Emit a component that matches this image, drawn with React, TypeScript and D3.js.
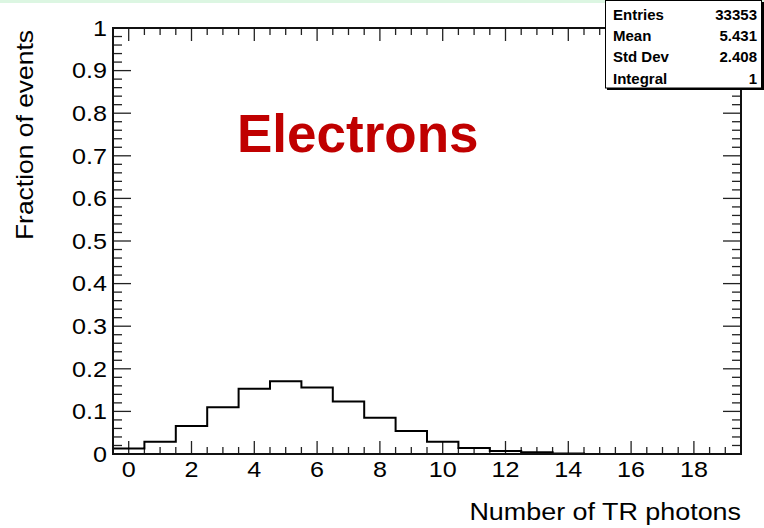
import React from "react";
import * as d3 from "d3";

// Number of TR photons per event (bin centres) and the normalised fraction in each bin
const photonCounts = [0, 1, 2, 3, 4, 5, 6, 7, 8, 9, 10, 11, 12, 13, 14, 15, 16, 17, 18, 19];
const fractions = [
  0.013, 0.029, 0.066, 0.11, 0.153, 0.171, 0.156, 0.123, 0.085, 0.054,
  0.029, 0.014, 0.007, 0.004, 0.001, 0, 0, 0, 0, 0,
];

const xTickValues = [0, 2, 4, 6, 8, 10, 12, 14, 16, 18];
const yTickValues = [0, 0.1, 0.2, 0.3, 0.4, 0.5, 0.6, 0.7, 0.8, 0.9, 1];

const statLabels = ["Entries", "Mean", "Std Dev", "Integral"];
const statValues = ["33353", "5.431", "2.408", "1"];

const W = 764;
const H = 528;
const frame = { left: 113, right: 741, top: 28, bottom: 454 };
const FONT = "'Liberation Sans', Arial, Helvetica, sans-serif";
const STRETCH = 1.17;

// text that is widened horizontally around its anchor point
function WideText(props: {
  x: number;
  y: number;
  size: number;
  anchor?: "start" | "middle" | "end";
  dy?: string;
  sx?: number;
  children: React.ReactNode;
}) {
  const { x, y, size, anchor = "start", dy, sx = STRETCH, children } = props;
  return (
    <text
      transform={`translate(${x},${y}) scale(${sx},1)`}
      fontSize={size}
      textAnchor={anchor}
      dy={dy}
      fill="#000"
    >
      {children}
    </text>
  );
}

export default function App() {
  const x = d3.scaleLinear().domain([-0.5, 19.5]).range([frame.left, frame.right]);
  const y = d3.scaleLinear().domain([0, 1]).range([frame.bottom, frame.top]);

  // step outline of the histogram
  const steps: [number, number][] = [];
  photonCounts.forEach((c, i) => {
    steps.push([c - 0.5, fractions[i]]);
    steps.push([c + 0.5, fractions[i]]);
  });
  const histPath = d3
    .line<[number, number]>()
    .x((d) => x(d[0]))
    .y((d) => y(d[1]))(steps);

  const xMinor = d3.range(-0.5, 19.51, 0.5);
  const yMinor = d3.range(0, 1.0001, 0.02);

  const xMajorLen = 13;
  const xMinorLen = 7;
  const yMajorLen = 18;
  const yMinorLen = 9;

  const isMajorX = (v: number) => Math.abs(v / 2 - Math.round(v / 2)) < 1e-6;
  const isMajorY = (v: number) => Math.abs(v * 10 - Math.round(v * 10)) < 1e-6;

  const fmtY = (v: number) => (v === 0 ? "0" : v === 1 ? "1" : d3.format(".1f")(v));

  return (
    <svg
      width={W}
      height={H}
      style={{ position: "absolute", left: 0, top: 0, display: "block" }}
      fontFamily={FONT}
    >
      <rect x={0} y={0} width={W} height={H} fill="#ffffff" />
      <rect x={0} y={0} width={W} height={3} fill="#dcf6e2" />

      {/* ticks on all four sides */}
      <g stroke="#222" strokeWidth={1.3}>
        {xMinor.map((v, i) => {
          const len = isMajorX(v) ? xMajorLen : xMinorLen;
          return (
            <g key={"xt" + i}>
              <line x1={x(v)} x2={x(v)} y1={frame.bottom} y2={frame.bottom - len} />
              <line x1={x(v)} x2={x(v)} y1={frame.top} y2={frame.top + len} />
            </g>
          );
        })}
        {yMinor.map((v, i) => {
          const len = isMajorY(v) ? yMajorLen : yMinorLen;
          return (
            <g key={"yt" + i}>
              <line x1={frame.left} x2={frame.left + len} y1={y(v)} y2={y(v)} />
              <line x1={frame.right} x2={frame.right - len} y1={y(v)} y2={y(v)} />
            </g>
          );
        })}
      </g>

      {/* histogram */}
      <path d={histPath || ""} fill="none" stroke="#000" strokeWidth={2} />

      {/* frame */}
      <rect
        x={frame.left}
        y={frame.top}
        width={frame.right - frame.left}
        height={frame.bottom - frame.top}
        fill="none"
        stroke="#111"
        strokeWidth={2}
      />

      {/* tick labels */}
      {xTickValues.map((v) => (
        <WideText key={"xl" + v} x={x(v)} y={477} size={21.5} anchor="middle">
          {v}
        </WideText>
      ))}
      {yTickValues.map((v) => (
        <WideText key={"yl" + v} x={107} y={y(v)} size={21.5} anchor="end" dy="0.36em">
          {fmtY(v)}
        </WideText>
      ))}

      {/* axis titles */}
      <WideText x={741} y={520} size={23} anchor="end">
        Number of TR photons
      </WideText>
      <text
        transform={`translate(33,30) rotate(-90) scale(1.15,1)`}
        fontSize={23}
        textAnchor="end"
        fill="#000"
      >
        Fraction of events
      </text>

      {/* particle label */}
      <text x={237} y={152} fontSize={53} fontWeight="bold" fill="#c00000">
        Electrons
      </text>

      {/* statistics box */}
      <g>
        <rect x={607} y={2} width={157} height={88} fill="#000" />
        <rect x={605.5} y={0.5} width={156} height={87.5} fill="#fff" stroke="#000" strokeWidth={1} />
        {statLabels.map((s, i) => (
          <g key={s} fontSize={15} fontWeight="bold" fill="#000">
            <text x={613} y={20 + i * 21.2}>
              {s}
            </text>
            <text x={757} y={20 + i * 21.2} textAnchor="end">
              {statValues[i]}
            </text>
          </g>
        ))}
      </g>
    </svg>
  );
}
